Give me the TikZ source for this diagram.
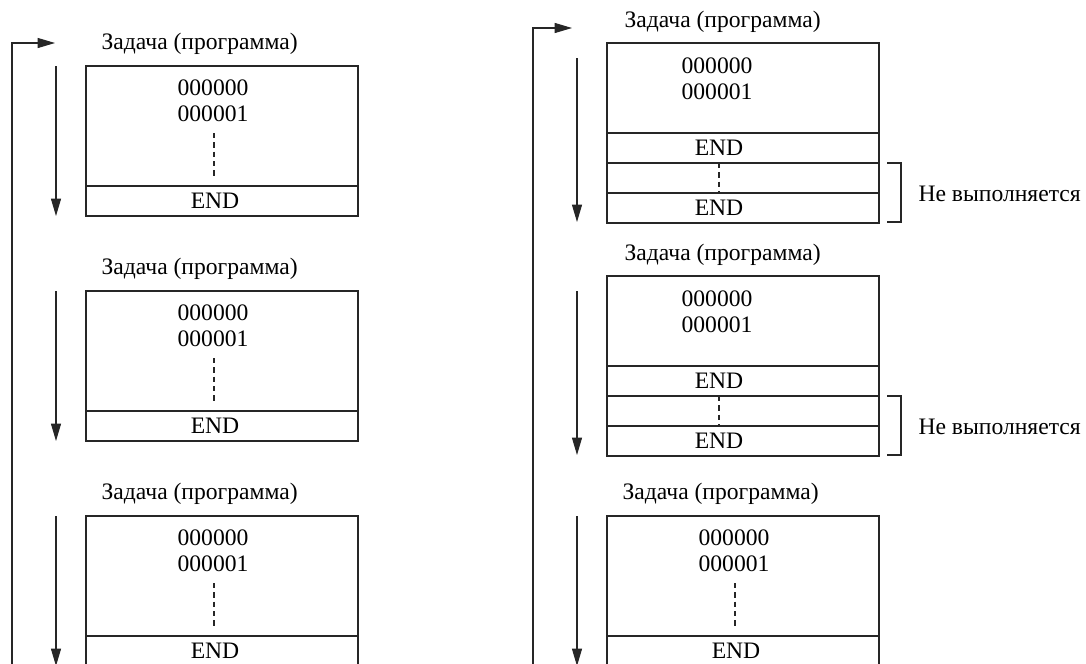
\documentclass[tikz,border=0pt]{standalone}
\usepackage{fontspec}
\setmainfont{Liberation Serif}
\usetikzlibrary{arrows.meta}
\begin{document}
\begin{tikzpicture}[x=0.75pt,y=-0.75pt, line width=0.8pt, draw=black!85,
  lbl/.style={anchor=west, inner sep=0pt, font=\fontsize{17.7}{21}\selectfont},
  txt/.style={inner sep=0pt, font=\fontsize{17.7}{21}\selectfont},
  arr/.style={-{Triangle[length=13pt,width=7.5pt]}},
  dsh/.style={dash pattern=on 4pt off 3pt},
  thk/.style={line width=1.5pt}]
\useasboundingbox (0,0) rectangle (1086,664);
\clip (0,0) rectangle (1086,664);
% loops
\coordinate (la) at (12,700);
\coordinate (lb) at (12,43);
\coordinate (lc) at (55,43);
\draw[arr] (la) -- (lb) -- (lc);
\coordinate (ra) at (533,700);
\coordinate (rb) at (533,28);
\coordinate (rc) at (572,28);
\draw[arr] (ra) -- (rb) -- (rc);
% simple boxes (left column and bottom right)
\foreach \X/\Y/\n in {0/66/a, 0/291/b, 0/516/c, 521/516/d} {
  \draw (86+\X,\Y) rectangle (358+\X,\Y+150);
  \draw (86+\X,\Y+120) -- (358+\X,\Y+120);
  \node[lbl] (lab\n) at (101+\X,\Y-22) {Задача (программа)};
  \node[txt] (z\n) at (213+\X,\Y+22) {000000};
  \node[txt] (o\n) at (213+\X,\Y+48) {000001};
  \coordinate (ds\n) at (214+\X,\Y+67);
  \coordinate (de\n) at (214+\X,\Y+112);
  \draw[dsh] (ds\n) -- (de\n);
  \node[txt] (e\n) at (215+\X,\Y+135) {END};
  \coordinate (as\n) at (56+\X,\Y);
  \coordinate (ae\n) at (56+\X,\Y+150);
  \draw[arr] (as\n) -- (ae\n);
}
% boxes with skipped part
\foreach \T/\n in {43/e, 276/f} {
  \draw (607,\T) rectangle (879,\T+180);
  \draw (607,\T+90) -- (879,\T+90);
  \draw[thk] (607,\T+120) -- (879,\T+120);
  \draw[thk] (607,\T+150) -- (879,\T+150);
  \node[lbl] (lab\n) at (624,\T-21) {Задача (программа)};
  \node[txt] (z\n) at (717,\T+23) {000000};
  \node[txt] (o\n) at (717,\T+49) {000001};
  \node[txt] (e\n) at (719,\T+105) {END};
  \node[txt] (ee\n) at (719,\T+165) {END};
  \coordinate (ds\n) at (719,\T+120);
  \coordinate (de\n) at (719,\T+150);
  \draw[dsh] (ds\n) -- (de\n);
  \coordinate (as\n) at (577,\T+15);
  \coordinate (ae\n) at (577,\T+179);
  \draw[arr] (as\n) -- (ae\n);
  \draw (887,\T+120) -- (901,\T+120) -- (901,\T+179) -- (887,\T+179);
  \node[lbl] (nv\n) at (918,\T+151) {Не выполняется};
}
\end{tikzpicture}
\end{document}
